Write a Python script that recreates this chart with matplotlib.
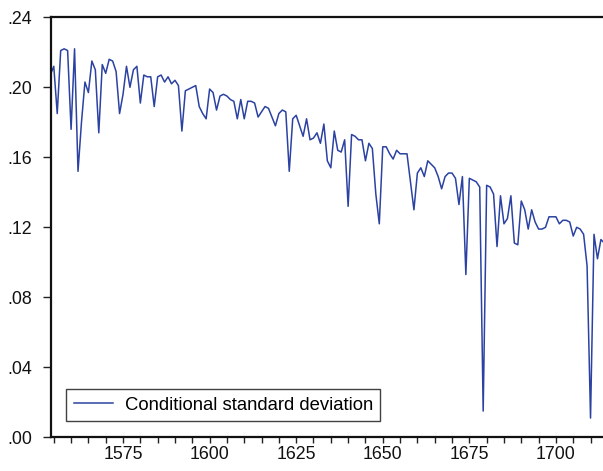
import matplotlib
matplotlib.use("Agg")
import matplotlib.pyplot as plt
from matplotlib.ticker import MultipleLocator, FuncFormatter
import numpy as np

plt.rcParams["font.family"] = ["Liberation Sans", "DejaVu Sans"]

# annual observations, 1554-1714
years = np.arange(1554, 1715)
cond_sd = [
    0.207, 0.212, 0.185, 0.221, 0.222, 0.221, 0.176, 0.222, 0.152, 0.180,
    0.203, 0.197, 0.215, 0.210, 0.174, 0.213, 0.208, 0.216, 0.215, 0.209,
    0.185, 0.196, 0.212, 0.200, 0.210, 0.212, 0.191, 0.207, 0.206, 0.206,
    0.189, 0.206, 0.207, 0.203, 0.206, 0.202, 0.204, 0.201, 0.175, 0.198,
    0.199, 0.200, 0.201, 0.189, 0.185, 0.182, 0.199, 0.197, 0.187, 0.195,
    0.196, 0.195, 0.193, 0.192, 0.182, 0.193, 0.182, 0.192, 0.192, 0.191,
    0.183, 0.186, 0.189, 0.188, 0.183, 0.178, 0.185, 0.187, 0.186, 0.152,
    0.182, 0.184, 0.178, 0.172, 0.182, 0.170, 0.171, 0.174, 0.168, 0.179,
    0.158, 0.154, 0.175, 0.164, 0.163, 0.170, 0.132, 0.173, 0.172, 0.170,
    0.170, 0.158, 0.168, 0.165, 0.139, 0.122, 0.166, 0.166, 0.162, 0.159,
    0.164, 0.162, 0.162, 0.162, 0.146, 0.130, 0.151, 0.154, 0.149, 0.158,
    0.156, 0.154, 0.149, 0.142, 0.149, 0.151, 0.151, 0.148, 0.133, 0.149,
    0.093, 0.148, 0.147, 0.146, 0.143, 0.015, 0.144, 0.143, 0.139, 0.109,
    0.138, 0.122, 0.125, 0.138, 0.111, 0.110, 0.135, 0.130, 0.119, 0.130,
    0.123, 0.119, 0.119, 0.120, 0.126, 0.126, 0.126, 0.122, 0.124, 0.124,
    0.123, 0.115, 0.120, 0.119, 0.116, 0.098, 0.011, 0.116, 0.102, 0.113,
    0.111,
]

fig = plt.figure(figsize=(6.03, 4.71), dpi=100)
ax = fig.add_axes([51 / 603, 1 - 437.3 / 471, 1 - 51 / 603, (437.3 - 17.3) / 471])

ax.plot(years, cond_sd, color="#2B42A2", linewidth=1.1,
        label="Conditional standard deviation")

ax.set_xlim(1554.2, 1713.6)
ax.set_ylim(0, 0.24)

ax.xaxis.set_major_locator(MultipleLocator(25))
ax.xaxis.set_minor_locator(MultipleLocator(5))
ax.yaxis.set_major_locator(MultipleLocator(0.04))
ax.yaxis.set_major_formatter(FuncFormatter(lambda v, p: ("%.2f" % v)[1:]))

ax.tick_params(axis="both", which="both", direction="out", width=1.0,
               colors="#222222", labelsize=12.8, labelcolor="#111111")
ax.tick_params(axis="x", which="both", length=4, pad=2.5)
ax.tick_params(axis="y", length=5.5, pad=8)

for side in ("left", "top", "bottom"):
    ax.spines[side].set_linewidth(1.6)
    ax.spines[side].set_color("#111111")
ax.spines["right"].set_visible(False)

leg = ax.legend(loc="lower left", bbox_to_anchor=(0.028, 0.039),
                borderaxespad=0, fontsize=13.3, frameon=True, fancybox=False,
                handlelength=2.1, handletextpad=0.65, borderpad=0.4)
leg.get_frame().set_edgecolor("#111111")
leg.get_frame().set_linewidth(1.0)

fig.savefig("out.png", dpi=100)
